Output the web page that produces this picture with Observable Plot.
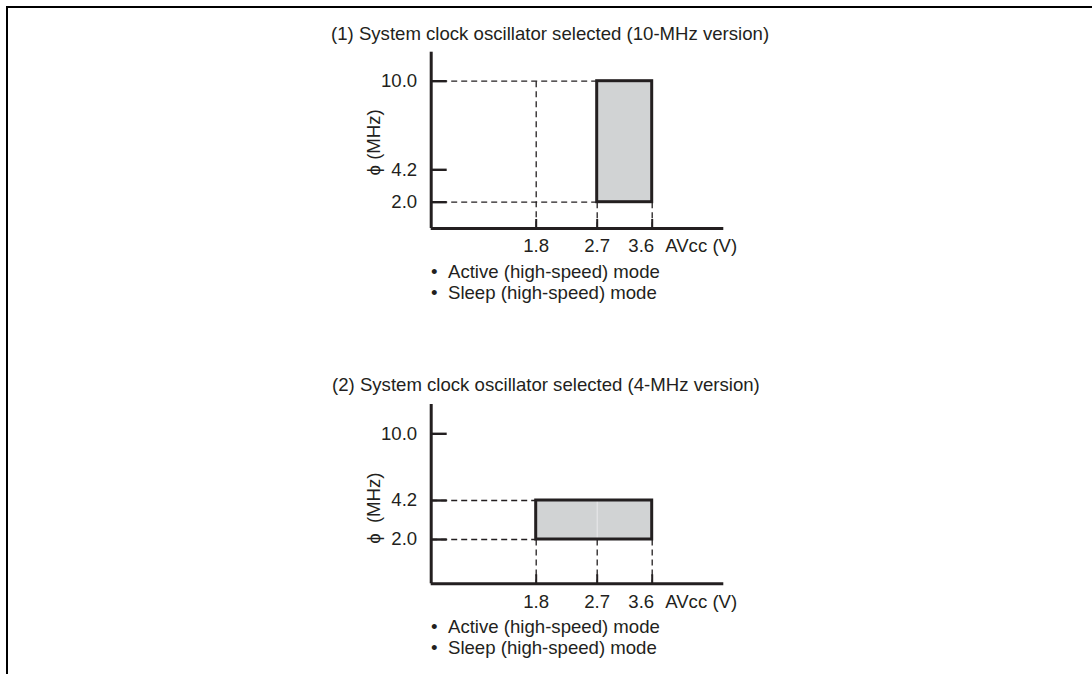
<!DOCTYPE html>
<html>
<head>
<meta charset="utf-8">
<script src="https://cdn.jsdelivr.net/npm/d3@7"></script>
<script src="https://cdn.jsdelivr.net/npm/@observablehq/plot@0.6"></script>
<style>
  html, body { margin: 0; padding: 0; background: #fff; }
  #page { position: relative; width: 1092px; height: 674px; overflow: hidden;
          font-family: "Liberation Sans", Arial, sans-serif; color: #231f20; }
  #border { position: absolute; left: 6px; top: 6px; width: 1200px; height: 800px;
            border-left: 2px solid #000; border-top: 2px solid #000; }
  .chart { position: absolute; left: 0; }
  .txt { position: absolute; font-size: 18.6px; line-height: 18px; white-space: nowrap; }
</style>
</head>
<body>
<div id="page"><div id="border"></div></div>
<script>
// ---------- data ----------
const xTicks = [1.8, 2.7, 3.6];            // AVcc (V)
const yTicks = [2.0, 4.2, 10.0];           // phi (MHz)
const titles = [
  "(1) System clock oscillator selected (10-MHz version)",
  "(2) System clock oscillator selected (4-MHz version)"
];
const modes = ["Active (high-speed) mode", "Sleep (high-speed) mode"];
const xLabel = "AVcc (V)";
const yLabel = "ϕ (MHz)";

// operating regions
const region10 = [{vMin: 2.7, vMax: 3.6, fMin: 2.0, fMax: 10.0}];
const region4  = [{vMin: 1.8, vMax: 3.6, fMin: 2.0, fMax: 4.2}];
// dashed guide lines (horizontal: from axis to voltage v at freq f; vertical: from freq f down to axis at v)
const hGuides10 = [{f: 10.0, v: 2.7}, {f: 2.0, v: 2.7}];
const vGuides10 = [{v: 1.8, f: 10.0}, {v: 2.7, f: 2.0}, {v: 3.6, f: 2.0}];
const hGuides4  = [{f: 4.2, v: 1.8}, {f: 2.0, v: 1.8}];
const vGuides4  = [{v: 1.8, f: 2.0}, {v: 2.7, f: 2.0}, {v: 3.6, f: 2.0}];
const dividers4 = [2.7];

// ---------- schematic (piecewise) scales ----------
const X_DOMAIN = [0, 1.8, 2.7, 3.6, 4.7];
const X_RANGE  = [430.7, 535.7, 596.7, 651.7, 723.3];
const Y_DOMAIN = [0, 2.0, 4.2, 10.0, 11.9];

const INK = "#231f20";
const FILL = "#d1d3d4";
const FONT = "'Liberation Sans', Arial, sans-serif";

function panel({region, hGuides, vGuides, dividers, yRange, height, labelDy, label}) {
  const x0 = X_DOMAIN[0], x1 = X_DOMAIN[X_DOMAIN.length - 1];
  const y0 = Y_DOMAIN[0], y1 = Y_DOMAIN[Y_DOMAIN.length - 1];
  const last = xTicks[xTicks.length - 1];
  return Plot.plot({
    width: 1092,
    height,
    marginLeft: X_RANGE[0],
    marginRight: 1092 - X_RANGE[X_RANGE.length - 1],
    marginTop: yRange[yRange.length - 1],
    marginBottom: height - yRange[0],
    x: {type: "linear", domain: X_DOMAIN, range: X_RANGE},
    y: {type: "linear", domain: Y_DOMAIN, range: yRange},
    style: {fontFamily: FONT, fontSize: "18.6px", color: INK, background: "transparent", overflow: "visible"},
    marks: [
      Plot.rect(region, {x1: "vMin", x2: "vMax", y1: "fMin", y2: "fMax", fill: FILL}),
      Plot.ruleX(dividers, {x: d => d, y1: region[0].fMin, y2: region[0].fMax, stroke: "#e9eaeb", strokeWidth: 1}),
      Plot.link(hGuides, {x1: x0, x2: "v", y1: "f", y2: "f", stroke: INK, strokeWidth: 1.3, strokeDasharray: "6,4"}),
      Plot.link(vGuides, {x1: "v", x2: "v", y1: "f", y2: y0, stroke: INK, strokeWidth: 1.3, strokeDasharray: "6,4"}),
      Plot.rect(region, {x1: "vMin", x2: "vMax", y1: "fMin", y2: "fMax", fill: "none", stroke: INK, strokeWidth: 3}),
      // inward ticks
      Plot.ruleY(yTicks, {y: d => d, x1: x0, x2: x0, insetRight: -16, stroke: INK, strokeWidth: 2.4}),
      Plot.ruleX(xTicks, {x: d => d, y1: y0, y2: y0, insetTop: -9, stroke: INK, strokeWidth: 2}),
      // axis lines
      Plot.ruleX([x0], {y1: y0, y2: y1, stroke: INK, strokeWidth: 3}),
      Plot.ruleY([y0], {x1: x0, x2: x1, stroke: INK, strokeWidth: 3}),
      // tick labels
      Plot.axisY(yTicks, {tickSize: 0, tickPadding: 14, tickFormat: d => d.toFixed(1), label: null, fill: INK}),
      Plot.axisX(xTicks.slice(0, -1), {tickSize: 0, tickPadding: 10.5, tickFormat: d => d.toFixed(1), label: null, fill: INK}),
      Plot.text([last], {x: d => d, text: d => d.toFixed(1), frameAnchor: "bottom", textAnchor: "end", lineAnchor: "top", dy: 10.5, dx: 2, fill: INK}),
      Plot.text([xLabel], {x: last, text: d => d, frameAnchor: "bottom", textAnchor: "start", lineAnchor: "top", dy: 10.5, dx: 13, fill: INK}),
      Plot.text([label], {text: d => d, frameAnchor: "left", rotate: -90, textAnchor: "middle", lineAnchor: "middle", dx: -57, dy: labelDy, fill: INK})
    ]
  });
}

const page = document.getElementById("page");

function addText(str, left, top) {
  const d = document.createElement("div");
  d.className = "txt";
  d.style.left = left + "px";
  d.style.top = top + "px";
  d.textContent = str;
  page.appendChild(d);
}
function addChart(svg, top) {
  svg.classList.add("chart");
  svg.style.top = top + "px";
  page.appendChild(svg);
}

// panel 1
addChart(panel({region: region10, hGuides: hGuides10, vGuides: vGuides10, dividers: [],
  yRange: [228, 201.7, 169.3, 80.7, 51.7], height: 262, labelDy: 2, label: yLabel}), 0);
// panel 2
addChart(panel({region: region4, hGuides: hGuides4, vGuides: vGuides4, dividers: dividers4,
  yRange: [223.3, 179, 140, 73.3, 44], height: 262, labelDy: 14, label: "ϕ\u00a0\u00a0(MHz)"}), 360);

addText(titles[0], 331, 25);
addText(titles[1], 332, 376);
[[262.5, 284.2], [617.5, 639.2]].forEach(tops => {
  modes.forEach((m, i) => {
    addText("•", 431, tops[i]);
    addText(m, 448, tops[i]);
  });
});
</script>
</body>
</html>
